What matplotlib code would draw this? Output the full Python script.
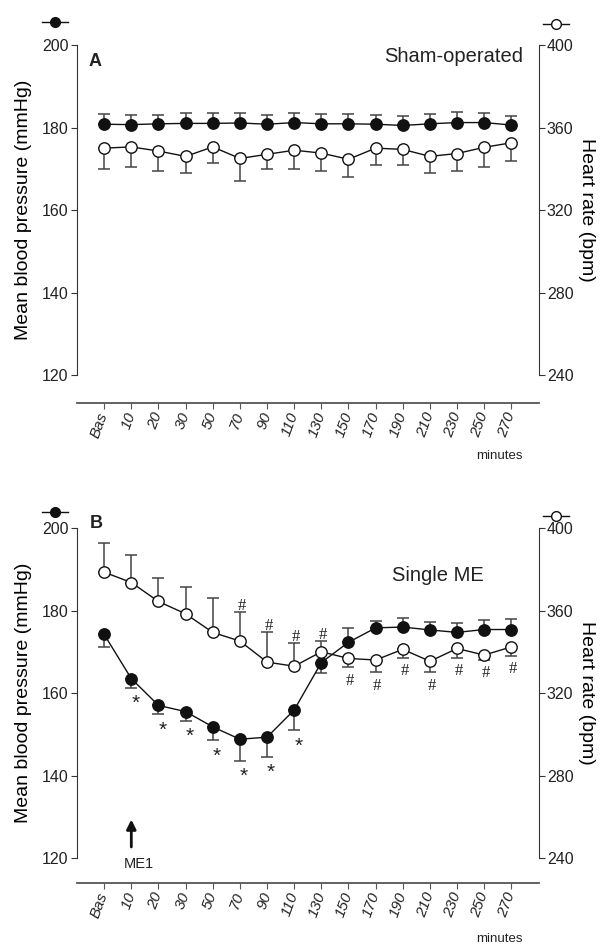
import numpy as np
import matplotlib
matplotlib.use('Agg')
import matplotlib.pyplot as plt

plt.rcParams.update({
    'font.family': ['Liberation Sans', 'DejaVu Sans'],
    'font.size': 11,
    'text.color': '#222222',
    'axes.edgecolor': '#333333',
    'xtick.color': '#333333', 'ytick.color': '#333333',
    'xtick.labelcolor': '#222222', 'ytick.labelcolor': '#222222',
})

# ── data (MBP in mmHg, HR in bpm, mean and SEM) ──
labels = ['Bas', '10', '20', '30', '50', '70', '90', '110', '130',
          '150', '170', '190', '210', '230', '250', '270']

sham_mbp = [180.8, 180.7, 180.9, 181.0, 181.0, 181.1, 180.8, 181.2,
            180.9, 180.9, 180.8, 180.5, 180.9, 181.2, 181.2, 180.6]
sham_mbp_sem = [2.4, 2.4, 2.2, 2.4, 2.4, 2.3, 2.2, 2.3,
                2.3, 2.3, 2.3, 2.3, 2.4, 2.6, 2.2, 2.3]
sham_hr = [350.0, 350.6, 348.6, 346.0, 350.6, 345.0, 347.0, 349.0,
           347.6, 344.6, 350.0, 349.4, 346.0, 347.4, 350.4, 352.6]
sham_hr_sem = [10.0, 9.6, 9.6, 8.0, 7.6, 11.0, 7.0, 9.0,
               8.6, 8.6, 8.0, 7.4, 8.0, 8.4, 9.4, 9.0]

me_mbp = [174.2, 163.5, 157.0, 155.5, 151.8, 148.8, 149.3, 155.9,
          167.4, 172.3, 175.8, 176.0, 175.3, 174.7, 175.4, 175.4]
me_mbp_sem = [3.0, 2.3, 2.2, 2.2, 3.3, 5.3, 4.7, 4.9,
              2.6, 3.5, 1.7, 2.3, 2.0, 2.3, 2.2, 2.6]
me_hr = [378.6, 373.6, 364.4, 358.4, 349.4, 345.2, 335.0, 333.0,
         340.0, 336.8, 336.0, 341.2, 335.4, 341.6, 338.4, 342.4]
me_hr_sem = [14.2, 13.4, 11.2, 13.0, 16.6, 14.0, 14.4, 11.2,
             5.0, 4.4, 6.0, 4.2, 5.4, 4.6, 2.4, 4.4]

# which way each error bar points (True = up)
sham_mbp_up = [True] * 16
sham_hr_up = [False] * 16
me_mbp_up = [False] * 9 + [True] * 7
me_hr_up = [True] * 9 + [False] * 7

star_idx = [1, 2, 3, 4, 5, 6, 7]            # * vs Bas, MBP
hash_idx = [5, 6, 7, 8, 9, 10, 11, 12, 13, 14, 15]   # # vs Bas, HR

x = np.arange(len(labels))
DARK = '#111111'
EBAR = '#444444'


def one_sided(ax, xs, ys, sem, up):
    sem = np.asarray(sem)
    up = np.asarray(up)
    lo = np.where(up, 0, sem)
    hi = np.where(up, sem, 0)
    ax.errorbar(xs, ys, yerr=[lo, hi], fmt='none', ecolor=EBAR,
                elinewidth=1.1, capsize=4.5, capthick=1.1, zorder=1)


def draw_series(ax, ys, sem, up, filled):
    one_sided(ax, x, ys, sem, up)
    ax.plot(x, ys, '-', color=DARK, lw=1.0, zorder=2,
            marker='o', markersize=8.2,
            markerfacecolor=DARK if filled else 'white',
            markeredgecolor=DARK, markeredgewidth=1.0)


def legend_icon(ax, xf, yf, filled):
    d = 0.028
    ax.plot([xf - d, xf + d], [yf, yf], '-', color=DARK, lw=1.0,
            transform=ax.transAxes, clip_on=False)
    ax.plot([xf], [yf], 'o', markersize=7,
            markerfacecolor=DARK if filled else 'white',
            markeredgecolor=DARK, markeredgewidth=1.0,
            transform=ax.transAxes, clip_on=False)


def setup_axes(ax, ax2, x_offset):
    ax.set_xlim(-1, len(labels))
    ax.set_ylim(120, 200)
    ax.set_yticks([120, 140, 160, 180, 200])
    ax2.set_ylim(240, 400)
    ax2.set_yticks([240, 280, 320, 360, 400])

    for s in ['top', 'right']:
        ax.spines[s].set_visible(False)
    for s in ['top', 'bottom', 'left']:
        ax2.spines[s].set_visible(False)
    ax.spines['bottom'].set_position(('outward', x_offset))
    ax.spines['bottom'].set_color('#555555')
    ax.spines['bottom'].set_linewidth(1.3)

    ax.set_xticks(x)
    ax.set_xticklabels(labels, rotation=70, ha='right', va='center',
                       rotation_mode='anchor', fontsize=11, style='italic')
    ax.tick_params(axis='x', length=4, pad=3, color='#555555')
    ax.tick_params(axis='y', length=4, labelsize=11.5, pad=2)
    ax2.tick_params(axis='y', length=4, labelsize=11.5, pad=2)

    ax.set_ylabel('Mean blood pressure (mmHg)', fontsize=14)
    ax.yaxis.set_label_coords(-0.098, 0.5)
    ax2.set_ylabel('Heart rate (bpm)', fontsize=14, rotation=270)
    ax2.yaxis.set_label_coords(1.122, 0.5)
    ax.text(0.915, -0.246, 'minutes', transform=ax.transAxes,
            ha='center', va='center', fontsize=9.5)


fig = plt.figure(figsize=(6.05, 9.46), dpi=100)
axA = fig.add_axes([0.1273, 0.6036, 0.7628, 0.3488])
axB = fig.add_axes([0.1273, 0.0930, 0.7628, 0.3488])

# ── Panel A: sham-operated ──
axA2 = axA.twinx()
setup_axes(axA, axA2, 20)
draw_series(axA, sham_mbp, sham_mbp_sem, sham_mbp_up, True)
draw_series(axA2, sham_hr, sham_hr_sem, sham_hr_up, False)
axA.text(0.039, 0.951, 'A', transform=axA.transAxes, fontsize=13,
         fontweight='bold', ha='center', va='center')
axA.text(0.966, 0.965, 'Sham-operated', transform=axA.transAxes,
         fontsize=14.5, ha='right', va='center')
legend_icon(axA, -0.048, 1.0697, True)
legend_icon(axA2, 1.038, 1.0636, False)

# ── Panel B: single ME ──
axB2 = axB.twinx()
setup_axes(axB, axB2, 18)
draw_series(axB, me_mbp, me_mbp_sem, me_mbp_up, True)
draw_series(axB2, me_hr, me_hr_sem, me_hr_up, False)
axB.text(0.042, 1.015, 'B', transform=axB.transAxes, fontsize=13,
         fontweight='bold', ha='center', va='center')
axB.text(0.882, 0.855, 'Single ME', transform=axB.transAxes,
         fontsize=14.5, ha='right', va='center')
legend_icon(axB, -0.048, 1.0485, True)
legend_icon(axB2, 1.038, 1.036, False)

# significance marks
for i in star_idx:
    axB.text(x[i] + 0.15, me_mbp[i] - me_mbp_sem[i] - 3.8, '*',
             ha='center', va='center', fontsize=15)
for i in hash_idx:
    if me_hr_up[i]:
        yy = me_hr[i] + me_hr_sem[i] + 3.0
    else:
        yy = me_hr[i] - me_hr_sem[i] - 6.5
    axB2.text(x[i] + 0.06, yy, '#', ha='center', va='center',
              fontsize=12, family='Liberation Serif')

# ME1 arrow
axB.annotate('', xy=(1, 130.0), xytext=(1, 122.0),
             arrowprops=dict(arrowstyle='-|>', color=DARK, lw=2.0,
                             mutation_scale=14))
axB.text(1.28, 118.5, 'ME1', ha='center', va='center', fontsize=10.5,
         clip_on=False)

fig.savefig('out.png', dpi=100)
plt.close(fig)
